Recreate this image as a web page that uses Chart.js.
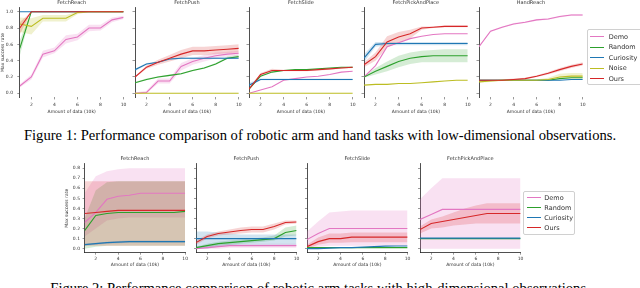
<!DOCTYPE html>
<html><head><meta charset="utf-8">
<script src="https://cdn.jsdelivr.net/npm/chart.js@4.4.0/dist/chart.umd.min.js"></script>
<style>
html,body{margin:0;padding:0;background:#fff;width:640px;height:288px;overflow:hidden;}
body{position:relative;font-family:"DejaVu Sans",sans-serif;}
canvas{position:absolute;}
.cap{position:absolute;left:0;width:640px;text-align:center;font-family:"Liberation Serif","Times New Roman",serif;font-size:14.6px;line-height:14.6px;color:#000;white-space:nowrap;}
.legend{position:absolute;background:rgba(255,255,255,0.85);border:0.6px solid #d0d0d0;border-radius:2px;color:#333;font-family:"DejaVu Sans",sans-serif;font-size:6.5px;}
.ent{position:absolute;left:0;height:8px;width:100%;}
.ln{position:absolute;display:block;top:3.4px;width:14px;height:0;border-top-width:1.3px;border-top-style:solid;}
.tx{position:absolute;top:0;line-height:8px;white-space:nowrap;}
</style>
</head><body>
<div class="cap" style="top:127.8px">Figure 1: Performance comparison of robotic arm and hand tasks with low-dimensional observations.</div>
<div class="cap" style="top:281.3px">Figure 2: Performance comparison of robotic arm tasks with high-dimensional observations.</div>
<script>
// ---------- data ----------
const xs = [1,2,3,4,5,6,7,8,9,10];
const xTicks = [2,4,6,8,10];
const yTicksLow = [0,0.2,0.4,0.6,0.8,1.0];
const yTicksHigh = [0,0.1,0.2,0.3,0.4,0.5,0.6,0.7,0.8];
const seriesNames = ['Demo','Random','Curiosity','Noise','Ours'];
const titlesLow = ['FetchReach','FetchPush','FetchSlide','FetchPickAndPlace','HandReach'];
const titlesHigh = ['FetchReach','FetchPush','FetchSlide','FetchPickAndPlace'];
const xTitle = 'Amount of data (10k)';
const yTitle = 'Max success rate';

// Figure 1 (low-dimensional)
const lReachDemo   = [0.09,0.20,0.48,0.52,0.66,0.69,0.80,0.80,0.90,0.93];
const lReachDemoLo = [0.07,0.17,0.44,0.49,0.61,0.65,0.76,0.77,0.87,0.91];
const lReachDemoHi = [0.11,0.23,0.52,0.56,0.71,0.73,0.84,0.84,0.93,0.95];
const lReachRandom   = [0.55,1,1,1,1,1,1,1,1,1];
const lReachRandomLo = [0.46,1,1,1,1,1,1,1,1,1];
const lReachRandomHi = [0.65,1,1,1,1,1,1,1,1,1];
const lReachCuriosity = [1,1,1,1,1,1,1,1,1,1];
const lReachNoise   = [0.85,0.82,0.92,0.92,0.92,0.99,1,1,1,1];
const lReachNoiseLo = [0.75,0.72,0.88,0.88,0.88,0.97,1,1,1,1];
const lReachNoiseHi = [0.93,0.92,0.96,0.96,0.96,1,1,1,1,1];
const lReachOurs   = [0.80,1,1,1,1,1,1,1,1,1];
const lReachOursLo = [0.72,1,1,1,1,1,1,1,1,1];
const lReachOursHi = [0.87,1,1,1,1,1,1,1,1,1];

const lPushDemo   = [0.00,0.01,0.15,0.15,0.33,0.39,0.43,0.46,0.48,0.49];
const lPushDemoLo = [0.00,0.00,0.12,0.12,0.28,0.35,0.39,0.43,0.45,0.46];
const lPushDemoHi = [0.01,0.03,0.18,0.18,0.37,0.43,0.47,0.50,0.51,0.52];
const lPushRandom   = [0.13,0.17,0.20,0.22,0.24,0.28,0.31,0.36,0.43,0.45];
const lPushRandomLo = [0.12,0.16,0.19,0.21,0.23,0.27,0.30,0.35,0.42,0.44];
const lPushRandomHi = [0.14,0.18,0.21,0.23,0.25,0.29,0.32,0.37,0.45,0.47];
const lPushCuriosity   = [0.29,0.36,0.38,0.42,0.43,0.43,0.43,0.43,0.43,0.43];
const lPushCuriosityLo = [0.27,0.35,0.37,0.41,0.42,0.42,0.42,0.42,0.42,0.42];
const lPushCuriosityHi = [0.30,0.37,0.39,0.43,0.44,0.44,0.44,0.44,0.44,0.44];
const lPushNoise = [0,0,0,0,0,0,0,0,0,0];
const lPushOurs   = [0.20,0.32,0.38,0.43,0.48,0.52,0.52,0.53,0.54,0.55];
const lPushOursLo = [0.19,0.30,0.35,0.39,0.43,0.47,0.47,0.48,0.49,0.50];
const lPushOursHi = [0.21,0.34,0.41,0.47,0.53,0.57,0.57,0.58,0.59,0.60];

const lSlideDemo   = [0.00,0.04,0.08,0.16,0.18,0.20,0.21,0.23,0.26,0.27];
const lSlideRandom = [0.05,0.21,0.26,0.28,0.29,0.29,0.30,0.31,0.32,0.32];
const lSlideCuriosity   = [0.10,0.17,0.17,0.17,0.17,0.17,0.17,0.17,0.17,0.17];
const lSlideCuriosityLo = [0.08,0.16,0.16,0.16,0.16,0.16,0.16,0.16,0.16,0.16];
const lSlideCuriosityHi = [0.13,0.18,0.18,0.18,0.18,0.18,0.18,0.18,0.18,0.18];
const lSlideNoise = [0,0,0,0,0,0,0,0,0,0];
const lSlideOurs   = [0.05,0.23,0.28,0.28,0.28,0.28,0.29,0.30,0.31,0.32];
const lSlideOursLo = [0.04,0.21,0.26,0.27,0.27,0.27,0.28,0.29,0.30,0.31];
const lSlideOursHi = [0.06,0.25,0.30,0.29,0.29,0.29,0.30,0.31,0.32,0.33];

const lPickDemo = [0.20,0.34,0.57,0.62,0.67,0.70,0.72,0.73,0.73,0.73];
const lPickRandom   = [0.20,0.27,0.33,0.39,0.43,0.45,0.46,0.46,0.46,0.46];
const lPickRandomLo = [0.19,0.23,0.27,0.32,0.36,0.38,0.38,0.38,0.38,0.38];
const lPickRandomHi = [0.21,0.31,0.39,0.46,0.50,0.52,0.53,0.54,0.54,0.54];
const lPickCuriosity   = [0.43,0.60,0.61,0.61,0.61,0.61,0.61,0.61,0.61,0.61];
const lPickCuriosityLo = [0.38,0.57,0.59,0.59,0.59,0.59,0.59,0.59,0.59,0.59];
const lPickCuriosityHi = [0.48,0.63,0.63,0.63,0.63,0.63,0.63,0.63,0.63,0.63];
const lPickNoise = [0.10,0.11,0.11,0.12,0.12,0.13,0.14,0.15,0.16,0.16];
const lPickOurs   = [0.35,0.45,0.63,0.69,0.73,0.80,0.81,0.82,0.82,0.82];
const lPickOursLo = [0.32,0.40,0.56,0.62,0.67,0.78,0.80,0.81,0.81,0.81];
const lPickOursHi = [0.38,0.50,0.70,0.75,0.78,0.82,0.82,0.83,0.83,0.83];

const lHandDemo   = [0.57,0.76,0.81,0.85,0.87,0.90,0.91,0.94,0.96,0.96];
const lHandDemoLo = [0.56,0.75,0.80,0.84,0.86,0.89,0.90,0.93,0.95,0.95];
const lHandDemoHi = [0.58,0.77,0.82,0.86,0.88,0.91,0.92,0.95,0.97,0.97];
const lHandRandom = [0.16,0.16,0.16,0.16,0.16,0.16,0.16,0.18,0.19,0.19];
const lHandCuriosity = [0.16,0.16,0.16,0.16,0.16,0.16,0.16,0.16,0.17,0.17];
const lHandNoise   = [0.14,0.15,0.16,0.16,0.16,0.16,0.17,0.20,0.21,0.21];
const lHandNoiseLo = [0.13,0.14,0.15,0.15,0.15,0.15,0.16,0.18,0.18,0.18];
const lHandNoiseHi = [0.15,0.16,0.17,0.17,0.17,0.17,0.19,0.24,0.25,0.25];
const lHandOurs   = [0.16,0.16,0.16,0.17,0.18,0.21,0.245,0.29,0.33,0.36];
const lHandOursLo = [0.15,0.15,0.15,0.16,0.17,0.20,0.23,0.27,0.31,0.34];
const lHandOursHi = [0.17,0.17,0.17,0.18,0.19,0.22,0.26,0.31,0.35,0.38];

// Figure 2 (high-dimensional)
const hReachDemo   = [0.26,0.36,0.49,0.52,0.53,0.55,0.55,0.55,0.55,0.55];
const hReachDemoLo = [0.12,0.20,0.28,0.30,0.31,0.31,0.31,0.31,0.31,0.31];
const hReachDemoHi = [0.55,0.72,0.77,0.79,0.80,0.80,0.80,0.80,0.80,0.80];
const hReachRandom   = [0.18,0.33,0.35,0.36,0.36,0.36,0.36,0.36,0.36,0.37];
const hReachRandomLo = [0.00,0.02,0.03,0.03,0.03,0.03,0.03,0.03,0.03,0.03];
const hReachRandomHi = [0.30,0.58,0.66,0.67,0.67,0.67,0.67,0.67,0.67,0.67];
const hReachCuriosity   = [0.04,0.05,0.06,0.065,0.07,0.07,0.07,0.07,0.07,0.07];
const hReachCuriosityLo = [0.03,0.04,0.05,0.055,0.06,0.06,0.06,0.06,0.06,0.06];
const hReachCuriosityHi = [0.05,0.06,0.07,0.075,0.08,0.08,0.08,0.08,0.08,0.08];
const hReachOurs   = [0.35,0.36,0.37,0.38,0.38,0.38,0.38,0.38,0.38,0.38];
const hReachOursLo = [0.03,0.03,0.03,0.03,0.03,0.03,0.03,0.03,0.03,0.03];
const hReachOursHi = [0.67,0.67,0.67,0.67,0.67,0.67,0.67,0.67,0.67,0.67];

const hPushDemo   = [0.00,0.01,0.02,0.03,0.03,0.03,0.03,0.03,0.03,0.03];
const hPushDemoLo = [0.00,0.00,0.00,0.01,0.01,0.01,0.01,0.01,0.01,0.01];
const hPushDemoHi = [0.01,0.03,0.04,0.05,0.05,0.05,0.05,0.05,0.05,0.05];
const hPushRandom   = [0.01,0.03,0.05,0.06,0.07,0.08,0.09,0.10,0.16,0.18];
const hPushRandomLo = [0.00,0.01,0.03,0.04,0.05,0.06,0.07,0.08,0.12,0.13];
const hPushRandomHi = [0.02,0.05,0.07,0.08,0.09,0.10,0.11,0.13,0.21,0.23];
const hPushCuriosity   = [0.10,0.10,0.10,0.10,0.10,0.10,0.10,0.10,0.10,0.10];
const hPushCuriosityLo = [0.00,0.00,0.02,0.03,0.04,0.04,0.04,0.04,0.04,0.04];
const hPushCuriosityHi = [0.17,0.17,0.16,0.15,0.14,0.14,0.14,0.14,0.14,0.14];
const hPushOurs   = [0.06,0.12,0.15,0.165,0.18,0.19,0.19,0.22,0.26,0.265];
const hPushOursLo = [0.04,0.10,0.13,0.14,0.15,0.16,0.16,0.19,0.24,0.25];
const hPushOursHi = [0.08,0.14,0.17,0.19,0.21,0.22,0.22,0.25,0.28,0.28];

const hSlideDemo   = [0.09,0.15,0.20,0.20,0.20,0.20,0.20,0.20,0.20,0.20];
const hSlideDemoLo = [0.00,0.02,0.03,0.03,0.03,0.03,0.03,0.03,0.03,0.03];
const hSlideDemoHi = [0.17,0.27,0.36,0.37,0.38,0.38,0.38,0.38,0.38,0.38];
const hSlideRandom = [0.01,0.01,0.01,0.01,0.01,0.01,0.01,0.01,0.01,0.01];
const hSlideCuriosity = [0.00,0.00,0.005,0.01,0.01,0.015,0.02,0.025,0.026,0.026];
const hSlideOurs   = [0.02,0.07,0.10,0.10,0.115,0.115,0.115,0.115,0.115,0.115];
const hSlideOursLo = [0.00,0.04,0.06,0.06,0.065,0.065,0.065,0.065,0.065,0.065];
const hSlideOursHi = [0.04,0.11,0.15,0.15,0.16,0.16,0.16,0.16,0.16,0.16];

const hPickDemo   = [0.29,0.34,0.39,0.39,0.39,0.39,0.39,0.39,0.39,0.39];
const hPickDemoLo = [0.00,0.00,0.00,0.00,0.00,0.00,0.00,0.00,0.00,0.00];
const hPickDemoHi = [0.49,0.60,0.70,0.70,0.70,0.70,0.70,0.70,0.70,0.70];
const hPickRandom = [0.10,0.10,0.10,0.10,0.10,0.10,0.10,0.10,0.10,0.10];
const hPickCuriosity = [0.105,0.105,0.105,0.105,0.105,0.105,0.105,0.105,0.105,0.105];
const hPickOurs   = [0.19,0.25,0.27,0.29,0.31,0.33,0.35,0.35,0.35,0.35];
const hPickOursLo = [0.15,0.20,0.21,0.23,0.24,0.25,0.25,0.25,0.25,0.25];
const hPickOursHi = [0.22,0.29,0.32,0.36,0.40,0.43,0.45,0.45,0.45,0.45];

// ---------- styling ----------
const COLORS = {Demo:'#e377c2', Random:'#2ca02c', Curiosity:'#1f77b4', Noise:'#bcbd22', Ours:'#d62728'};
const BANDS = {Demo:'rgba(227,119,194,0.22)', Random:'rgba(44,160,44,0.2)', Curiosity:'rgba(31,119,180,0.2)', Noise:'rgba(188,189,34,0.22)', Ours:'rgba(214,39,40,0.2)'};
const FONT = 'DejaVu Sans';
const TXT = '#333';

function pts(arr){ return xs.map((x,i)=>({x:x, y:arr[i]})); }

function buildDatasets(series){
  const lines = [], bands = [];
  series.forEach((s,k)=>{
    lines.push({label:s.name, data:pts(s.mean), borderColor:COLORS[s.name], borderWidth:1.1,
      pointRadius:0, fill:false, tension:0, order: 10 - k});
    if (s.lo && s.hi){
      bands.push({label:s.name+' lo', data:pts(s.lo), borderColor:'transparent', borderWidth:0,
        pointRadius:0, fill:false, order: 30 - k});
      bands.push({label:s.name+' hi', data:pts(s.hi), borderColor:'transparent', borderWidth:0,
        pointRadius:0, fill:'-1', backgroundColor:BANDS[s.name], order: 30 - k});
    }
  });
  return bands.concat(lines);
}

function makePanel(p){
  const cv = document.createElement('canvas');
  const W = p.yW + p.plotW + p.padR;
  const H = p.titleLH + p.titleGap + p.plotH + p.xH;
  cv.width = Math.round(W); cv.height = Math.round(H);
  cv.style.left = (p.plotL - p.yW) + 'px';
  cv.style.top = p.top + 'px';
  cv.style.width = Math.round(W) + 'px'; cv.style.height = Math.round(H) + 'px';
  document.body.appendChild(cv);
  new Chart(cv, {
    type:'line',
    data:{datasets: buildDatasets(p.series)},
    options:{
      responsive:false, animation:false, devicePixelRatio:1,
      layout:{padding:{left:0, right:cv.width - p.yW - p.plotW, top:0, bottom:0}},
      plugins:{
        legend:{display:false}, tooltip:{enabled:false},
        title:{display:true, text:p.title, fullSize:false, color:TXT,
          font:{family:FONT, size:5, lineHeight:p.titleLH+'px', weight:'normal'},
          padding:{top:0, bottom:p.titleGap}}
      },
      scales:{
        x:{type:'linear', min:1, max:10,
          afterBuildTicks:(s)=>{ s.ticks = xTicks.map(v=>({value:v})); },
          afterFit:(s)=>{ s.height = cv.height - p.titleLH - p.titleGap - p.plotH; },
          ticks:{color:TXT, font:{family:FONT, size:4.5}, padding:p.xTickPad, maxRotation:0, autoSkip:false,
            callback:(v)=>String(v)},
          grid:{display:true, drawOnChartArea:false, drawTicks:true, tickLength:2, tickColor:'#555', tickWidth:0.6},
          border:{display:p.bottomSpine, color:'#222', width:0.8},
          title:{display:true, text:xTitle, color:TXT, font:{family:FONT, size:4.5, lineHeight:'6px'}, padding:{top:0,bottom:0}}
        },
        y:{type:'linear', min:p.yMin, max:p.yMax,
          afterBuildTicks:(s)=>{ s.ticks = p.yTicks.map(v=>({value:v})); },
          afterFit:(s)=>{ s.width = p.yW; },
          ticks:{display:p.showY, color:TXT, font:{family:FONT, size:4.5}, padding:p.yTickPad,
            callback:(v)=>Number(v).toFixed(1)},
          grid:{display:true, drawOnChartArea:false, drawTicks:true, tickLength:p.yTickLen, tickColor:'#555', tickWidth:0.6},
          border:{display:true, color:'#222', width:0.8},
          title:{display:p.showY, text:yTitle, color:TXT, font:{family:FONT, size:4.5, lineHeight:'6px'}, padding:{top:0,bottom:0}}
        }
      }
    }
  });
}

function S(name, mean, lo, hi){ return {name, mean, lo, hi}; }

const lowSeries = [
  [S('Demo',lReachDemo,lReachDemoLo,lReachDemoHi), S('Random',lReachRandom,lReachRandomLo,lReachRandomHi),
   S('Curiosity',lReachCuriosity), S('Noise',lReachNoise,lReachNoiseLo,lReachNoiseHi), S('Ours',lReachOurs,lReachOursLo,lReachOursHi)],
  [S('Demo',lPushDemo,lPushDemoLo,lPushDemoHi), S('Random',lPushRandom,lPushRandomLo,lPushRandomHi),
   S('Curiosity',lPushCuriosity,lPushCuriosityLo,lPushCuriosityHi), S('Noise',lPushNoise), S('Ours',lPushOurs,lPushOursLo,lPushOursHi)],
  [S('Demo',lSlideDemo), S('Random',lSlideRandom), S('Curiosity',lSlideCuriosity,lSlideCuriosityLo,lSlideCuriosityHi),
   S('Noise',lSlideNoise), S('Ours',lSlideOurs,lSlideOursLo,lSlideOursHi)],
  [S('Demo',lPickDemo), S('Random',lPickRandom,lPickRandomLo,lPickRandomHi), S('Curiosity',lPickCuriosity,lPickCuriosityLo,lPickCuriosityHi),
   S('Noise',lPickNoise), S('Ours',lPickOurs,lPickOursLo,lPickOursHi)],
  [S('Demo',lHandDemo,lHandDemoLo,lHandDemoHi), S('Random',lHandRandom), S('Curiosity',lHandCuriosity),
   S('Noise',lHandNoise,lHandNoiseLo,lHandNoiseHi), S('Ours',lHandOurs,lHandOursLo,lHandOursHi)]
];
const highSeries = [
  [S('Demo',hReachDemo,hReachDemoLo,hReachDemoHi), S('Random',hReachRandom,hReachRandomLo,hReachRandomHi),
   S('Curiosity',hReachCuriosity,hReachCuriosityLo,hReachCuriosityHi), S('Ours',hReachOurs,hReachOursLo,hReachOursHi)],
  [S('Demo',hPushDemo,hPushDemoLo,hPushDemoHi), S('Random',hPushRandom,hPushRandomLo,hPushRandomHi),
   S('Curiosity',hPushCuriosity,hPushCuriosityLo,hPushCuriosityHi), S('Ours',hPushOurs,hPushOursLo,hPushOursHi)],
  [S('Demo',hSlideDemo,hSlideDemoLo,hSlideDemoHi), S('Random',hSlideRandom), S('Curiosity',hSlideCuriosity),
   S('Ours',hSlideOurs,hSlideOursLo,hSlideOursHi)],
  [S('Demo',hPickDemo,hPickDemoLo,hPickDemoHi), S('Random',hPickRandom), S('Curiosity',hPickCuriosity),
   S('Ours',hPickOurs,hPickOursLo,hPickOursHi)]
];

const lowLefts = [19.8, 134.5, 249.2, 363.9, 478.6];
lowLefts.forEach((L,i)=>{
  makePanel({plotL:L, plotW:103.8, padR:6, yW: i===0 ? 19.8 : 4, top:0,
    titleLH:5.4, titleGap:2.2, plotH:89.8, xH:17.6, yMin:-0.05, yMax:1.05, yTicks:yTicksLow,
    showY: i===0, yTickLen:2.5, yTickPad:4.3, xTickPad:2.6, bottomSpine:false,
    title:titlesLow[i], series:lowSeries[i]});
});
const highLefts = [84.3, 195.5, 307.2, 419.9];
highLefts.forEach((L,i)=>{
  makePanel({plotL:L, plotW:100.6, padR:6, yW: i===0 ? 20.6 : 4, top:155.6,
    titleLH:5.4, titleGap:2.3, plotH:89, xH:15.7, yMin:-0.04, yMax:0.844, yTicks:yTicksHigh,
    showY: i===0, yTickLen:2, yTickPad:2.6, xTickPad:1.3, bottomSpine:true,
    title:titlesHigh[i], series:highSeries[i]});
});

// ---------- legends ----------
function makeLegend(left, top, width, height, names, firstY, step, lineL, textL){
  const box = document.createElement('div');
  box.className = 'legend';
  box.style.left = left+'px'; box.style.top = top+'px';
  box.style.width = width+'px'; box.style.height = height+'px';
  names.forEach((n,i)=>{
    const e = document.createElement('div'); e.className='ent';
    e.style.top = (firstY + i*step - 4) + 'px';
    const l = document.createElement('span'); l.className='ln';
    l.style.left = lineL+'px'; l.style.borderTopColor = COLORS[n];
    const t = document.createElement('span'); t.className='tx';
    t.style.left = textL+'px'; t.textContent = n;
    e.appendChild(l); e.appendChild(t); box.appendChild(e);
  });
  document.body.appendChild(box);
}
makeLegend(587, 29, 60, 54, seriesNames, 6.7, 10.5, 2, 20.7);
makeLegend(523, 191, 50, 42, ['Demo','Random','Curiosity','Ours'], 5.7, 10, 2.7, 20.3);
</script>
</body></html>
